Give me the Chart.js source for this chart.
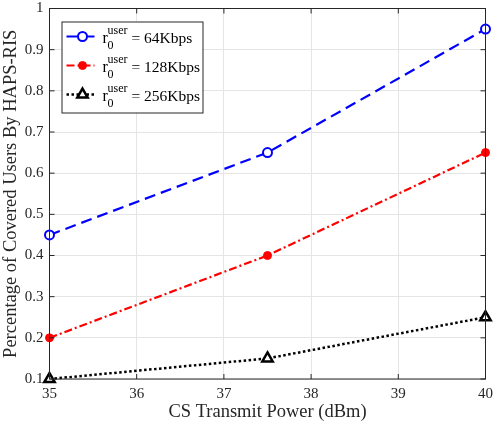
<!DOCTYPE html>
<html>
<head>
<meta charset="utf-8">
<script src="https://cdn.jsdelivr.net/npm/chart.js@4"></script>
<style>
  html, body { margin: 0; padding: 0; background: #fff; }
  #wrap { width: 494px; height: 428px; }
</style>
</head>
<body>
<div id="wrap"><canvas id="chart" width="494" height="428"></canvas></div>
<script>
// data
const powers = [35, 37.5, 40];
const users64 = [0.45, 0.65, 0.95];
const users128 = [0.2, 0.4, 0.65];
const users256 = [0.1, 0.15, 0.25];
const rateLabels = ["64Kbps", "128Kbps", "256Kbps"];
const xTicks = [35, 36, 37, 38, 39, 40];
const yTicks = [0.1, 0.2, 0.3, 0.4, 0.5, 0.6, 0.7, 0.8, 0.9, 1];

const serif = "'Liberation Serif', 'DejaVu Serif', serif";

function pts(ys) {
  return ys.map((y, i) => ({ x: powers[i], y: y }));
}

// box around the plot with ticks pointing inward
const frame = {
  id: "frame",
  afterDatasetsDraw(chart) {
    const { ctx, chartArea: a, scales } = chart;
    ctx.save();
    ctx.strokeStyle = "#262626";
    ctx.lineWidth = 1;
    ctx.strokeRect(a.left, a.top, a.right - a.left, a.bottom - a.top);
    ctx.beginPath();
    xTicks.forEach(v => {
      const x = scales.x.getPixelForValue(v);
      ctx.moveTo(x, a.bottom); ctx.lineTo(x, a.bottom - 5);
      ctx.moveTo(x, a.top); ctx.lineTo(x, a.top + 5);
    });
    yTicks.forEach(v => {
      const y = scales.y.getPixelForValue(v);
      ctx.moveTo(a.left, y); ctx.lineTo(a.left + 5, y);
      ctx.moveTo(a.right, y); ctx.lineTo(a.right - 5, y);
    });
    ctx.stroke();
    ctx.restore();
  }
};

// legend with r_0^user labels
const mathLegend = {
  id: "mathLegend",
  afterDraw(chart) {
    const { ctx, chartArea: a } = chart;
    const bx = a.left + 12, by = a.top + 13, bw = 141, bh = 91;
    ctx.save();
    ctx.fillStyle = "#fff";
    ctx.fillRect(bx, by, bw, bh);
    ctx.strokeStyle = "#262626";
    ctx.lineWidth = 1;
    ctx.strokeRect(bx + 0.5, by + 0.5, bw, bh);
    chart.data.datasets.forEach((ds, i) => {
      const cy = by + 15 + i * 29;
      ctx.beginPath();
      ctx.strokeStyle = ds.borderColor;
      ctx.lineWidth = ds.borderWidth;
      ctx.setLineDash(ds.borderDash || []);
      ctx.moveTo(bx + 5, cy);
      ctx.lineTo(bx + 33, cy);
      ctx.stroke();
      ctx.setLineDash([]);
      ctx.strokeStyle = ds.pointBorderColor;
      ctx.fillStyle = ds.pointBackgroundColor;
      ctx.lineWidth = ds.pointBorderWidth;
      Chart.helpers.drawPoint(ctx, {
        pointStyle: ds.pointStyle,
        radius: ds.pointRadius,
        borderWidth: ds.pointBorderWidth
      }, bx + 21, cy);
      ctx.fillStyle = "#000";
      ctx.textBaseline = "alphabetic";
      const tx = bx + 41;
      ctx.font = "16px " + serif;
      ctx.fillText("r", tx, cy + 6);
      ctx.font = "12px " + serif;
      ctx.fillText("user", tx + 5, cy - 3);
      ctx.fillText("0", tx + 5, cy + 12);
      ctx.font = "15.5px " + serif;
      ctx.fillText("= " + rateLabels[i], tx + 29, cy + 6);
    });
    ctx.restore();
  }
};

new Chart(document.getElementById("chart"), {
  type: "line",
  data: {
    datasets: [
      {
        data: pts(users64),
        borderColor: "#0000ff",
        backgroundColor: "#ffffff",
        borderWidth: 2.2,
        borderDash: [11, 6],
        pointStyle: "circle",
        pointRadius: 4.5,
        pointBorderWidth: 2,
        pointBorderColor: "#0000ff",
        pointBackgroundColor: "#ffffff"
      },
      {
        data: pts(users128),
        borderColor: "#ff0000",
        backgroundColor: "#ff0000",
        borderWidth: 2.2,
        borderDash: [8, 3, 2, 3],
        pointStyle: "circle",
        pointRadius: 4,
        pointBorderWidth: 1,
        pointBorderColor: "#ff0000",
        pointBackgroundColor: "#ff0000"
      },
      {
        data: pts(users256),
        borderColor: "#000000",
        backgroundColor: "#ffffff",
        borderWidth: 2.5,
        borderDash: [2.5, 2.5],
        pointStyle: "triangle",
        pointRadius: 6,
        pointBorderWidth: 2.5,
        pointBorderColor: "#000000",
        pointBackgroundColor: "#ffffff"
      }
    ]
  },
  options: {
    responsive: false,
    animation: false,
    clip: false,
    layout: { padding: { top: 5, right: 7, left: 0, bottom: 0 } },
    plugins: {
      legend: { display: false },
      tooltip: { enabled: false }
    },
    scales: {
      x: {
        type: "linear",
        min: 35,
        max: 40,
        afterBuildTicks: s => { s.ticks = xTicks.map(v => ({ value: v })); },
        afterFit: s => { s.height = 49; s.paddingLeft = 0; s.paddingRight = 0; },
        grid: { color: "#e5e5e5", drawTicks: false },
        border: { display: false },
        ticks: {
          color: "#262626",
          padding: 6,
          font: { family: serif, size: 15 },
          maxRotation: 0
        },
        title: {
          display: true,
          text: "CS Transmit Power (dBm)",
          color: "#262626",
          padding: { top: 2, bottom: 5 },
          font: { family: serif, size: 18.5 }
        }
      },
      y: {
        type: "linear",
        min: 0.1,
        max: 1,
        afterBuildTicks: s => { s.ticks = yTicks.map(v => ({ value: v })); },
        afterFit: s => { s.width = 49.5; s.paddingTop = 0; s.paddingBottom = 0; },
        grid: { color: "#e5e5e5", drawTicks: false },
        border: { display: false },
        ticks: {
          color: "#262626",
          padding: 6,
          font: { family: serif, size: 15 },
          callback: v => (Math.round(v * 10) / 10).toString()
        },
        title: {
          display: true,
          text: "Percentage of Covered Users By HAPS-RIS",
          color: "#262626",
          padding: { top: 0, bottom: 0 },
          font: { family: serif, size: 18.5 }
        }
      }
    }
  },
  plugins: [frame, mathLegend]
});
</script>
</body>
</html>
